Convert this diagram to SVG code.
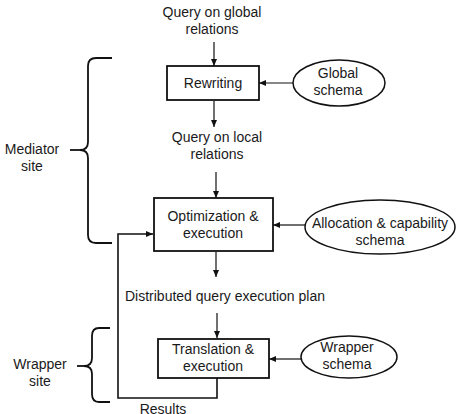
<svg xmlns="http://www.w3.org/2000/svg" width="460" height="414" viewBox="0 0 460 414">
<defs>
<marker id="ah" markerWidth="8" markerHeight="8" refX="7" refY="4" orient="auto" markerUnits="userSpaceOnUse">
<path d="M0,1 L7,4 L0,7 Z" fill="#111"/>
</marker>
<style>
text{font-family:"Liberation Sans",Arial,sans-serif;font-size:14px;fill:#1a1a1a;text-anchor:middle}
.box{fill:#fff;stroke:#111;stroke-width:1.8}
.ell{fill:#fff;stroke:#111;stroke-width:1.5}
.con{fill:none;stroke:#111;stroke-width:1.2}
.brace{fill:none;stroke:#111;stroke-width:1.8}
</style>
</defs>
<rect width="460" height="414" fill="#fff"/>
<g id="connectors">
<line class="con" x1="214" y1="42" x2="214" y2="66" marker-end="url(#ah)"/>
<line class="con" x1="293" y1="83" x2="259" y2="83" marker-end="url(#ah)"/>
<line class="con" x1="214" y1="101" x2="214" y2="127" marker-end="url(#ah)"/>
<line class="con" x1="216" y1="172" x2="216" y2="198" marker-end="url(#ah)"/>
<line class="con" x1="305" y1="225" x2="273" y2="225" marker-end="url(#ah)"/>
<line class="con" x1="216" y1="252" x2="216" y2="277" marker-end="url(#ah)"/>
<line class="con" x1="217" y1="313" x2="217" y2="338" marker-end="url(#ah)"/>
<line class="con" x1="301" y1="359" x2="269" y2="359" marker-end="url(#ah)"/>
<path class="con" style="stroke-width:1.6" d="M217,378 V398 H118 V234 H153" marker-end="url(#ah)"/>
</g>
<g id="query-global">
<text x="212" y="17">Query on global</text>
<text x="212" y="34">relations</text>
</g>
<g id="rewriting">
<rect class="box" x="167" y="66" width="92" height="34"/>
<text x="213" y="88">Rewriting</text>
</g>
<g id="global-schema">
<ellipse class="ell" cx="339" cy="83" rx="46" ry="23"/>
<text x="338" y="78">Global</text>
<text x="338" y="95">schema</text>
</g>
<g id="query-local">
<text x="217" y="142">Query on local</text>
<text x="217" y="159">relations</text>
</g>
<g id="optimization">
<rect class="box" x="154" y="198" width="119" height="53"/>
<text x="213" y="221">Optimization &amp;</text>
<text x="213" y="238">execution</text>
</g>
<g id="allocation-schema">
<ellipse class="ell" cx="380" cy="227" rx="75" ry="27"/>
<text x="380" y="228">Allocation &amp; capability</text>
<text x="380" y="245">schema</text>
</g>
<g id="plan">
<text x="225" y="301">Distributed query execution plan</text>
</g>
<g id="translation">
<rect class="box" x="158" y="339" width="111" height="39"/>
<text x="213" y="354">Translation &amp;</text>
<text x="213" y="371">execution</text>
</g>
<g id="wrapper-schema">
<ellipse class="ell" cx="349" cy="357" rx="48" ry="21"/>
<text x="347" y="352">Wrapper</text>
<text x="347" y="369">schema</text>
</g>
<g id="mediator-site">
<path class="brace" d="M112,58 H96 Q88,58 88,66 V142 Q88,150 80,150 Q88,150 88,158 V235 Q88,243 96,243 H112"/>
<line class="brace" x1="70" y1="150" x2="84" y2="150"/>
<text x="32" y="154">Mediator</text>
<text x="32" y="171">site</text>
</g>
<g id="wrapper-site">
<path class="brace" d="M110,328 H99 Q92,328 92,336 V358 Q92,366 84,366 Q92,366 92,374 V394 Q92,402 99,402 H110"/>
<line class="brace" x1="77" y1="366" x2="88" y2="366"/>
<text x="40" y="369">Wrapper</text>
<text x="40" y="386">site</text>
</g>
<g id="results">
<text x="163" y="414">Results</text>
</g>
</svg>
